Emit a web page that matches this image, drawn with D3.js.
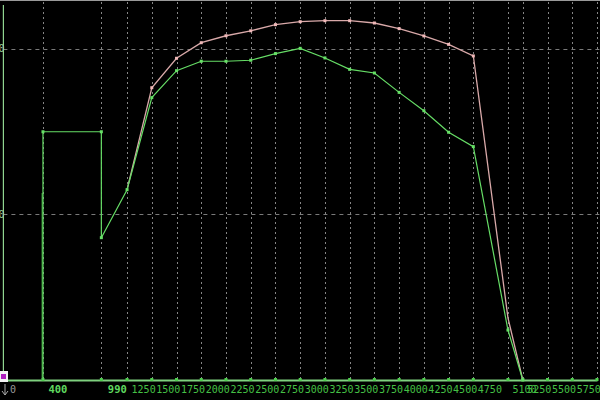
<!DOCTYPE html>
<html><head><meta charset="utf-8">
<script src="https://cdn.jsdelivr.net/npm/d3@7"></script>
<style>html,body{margin:0;padding:0;background:#000;overflow:hidden}svg{display:block}</style>
</head><body>
<svg id="c" width="600" height="400"></svg>
<script>
// ---- data ----
const tickValues = [0, 400, 990, 1250, 1500, 1750, 2000, 2250, 2500, 2750, 3000, 3250, 3500, 3750, 4000, 4250, 4500, 4750, 5100, 5250, 5500, 5750, 6000];
const tickLabels = ["0", "400", "990", "1250", "1500", "1750", "2000", "2250", "2500", "2750", "3000", "3250", "3500", "3750", "4000", "4250", "4500", "4750", "5100", "5250", "5500", "5750", "6000"];
const yTickValues = [100, 200];
const yTickLabels = ["100", "200"];

const greenX = [400, 400, 990, 990, 1250, 1500, 1750, 2000, 2250, 2500, 2750, 3000, 3250, 3500, 3750, 4000, 4250, 4500, 4750, 5100, 5250];
const greenY = [0, 150, 150, 86, 115, 170.6, 186.9, 192.6, 192.6, 193.2, 197.2, 200.4, 194.6, 187.7, 185.5, 173.8, 162.7, 149.7, 141, 30.2, 0];

const pinkX = [1250, 1500, 1750, 2000, 2250, 2500, 2750, 3000, 3250, 3500, 3750, 4000, 4250, 4500, 4750, 5100, 5250];
const pinkY = [115, 176.6, 194.4, 203.8, 208, 211, 214.7, 216.5, 217.1, 217.1, 215.7, 212.3, 207.9, 202.8, 195.8, 37.5, 0];

const shadowX = [392, 392];
const shadowY = [0, 113];

// ---- chart ----
const svg = d3.select("#c");
const W = 600, H = 400;
const x = d3.scaleLinear().domain([0, 6000]).range([3.4, 597]);
const y = d3.scaleLinear().domain([0, 229]).range([380, 1]);

svg.append("rect").attr("width", W).attr("height", H).attr("fill", "#000");

// top border
svg.append("line").attr("x1", 0).attr("x2", W).attr("y1", 0.5).attr("y2", 0.5)
  .attr("stroke", "#9a9a9a").attr("stroke-width", 1);

// vertical grid
svg.append("g").selectAll("line").data(tickValues.filter(d => d > 0)).join("line")
  .attr("x1", d => Math.round(x(d)) + 0.5).attr("x2", d => Math.round(x(d)) + 0.5)
  .attr("y1", 2).attr("y2", y(0))
  .attr("stroke", "#858585").attr("stroke-width", 1).attr("stroke-dasharray", "2,3");

// horizontal grid
svg.append("g").selectAll("line").data(yTickValues).join("line")
  .attr("x1", x(0)).attr("x2", W)
  .attr("y1", d => Math.round(y(d)) + 0.5).attr("y2", d => Math.round(y(d)) + 0.5)
  .attr("stroke", "#7a7a7a").attr("stroke-width", 1).attr("stroke-dasharray", "4,4");

// left y axis line
svg.append("line").attr("x1", x(0)).attr("x2", x(0)).attr("y1", 5).attr("y2", y(0))
  .attr("stroke", "#8fd48f").attr("stroke-width", 1.2);

// y labels (clipped at left edge, as in the reference)
svg.append("g").selectAll("text").data(yTickValues).join("text")
  .attr("x", 4.5).attr("y", d => y(d) + 3.5).attr("text-anchor", "end")
  .attr("font-family", "DejaVu Sans Mono").attr("font-size", 10)
  .attr("fill", "#9fcf9f").text((d, i) => yTickLabels[i]);

// bottom axis
const xAxis = d3.axisBottom(x).tickValues(tickValues).tickSize(0).tickFormat((d, i) => tickLabels[i]);
const ax = svg.append("g").attr("transform", `translate(0,${y(0)})`).call(xAxis);
ax.select(".domain").attr("stroke", "#7fd07f").attr("stroke-width", 2);
ax.selectAll(".tick text")
  .attr("text-anchor", "start")
  .attr("dx", (d) => d === 0 ? 6 : d === 400 ? 5 : d === 990 ? 6 : 4)
  .attr("dy", 0)
  .attr("y", 13)
  .attr("font-family", "DejaVu Sans Mono")
  .attr("font-size", (d) => (d === 400 || d === 990) ? 10.5 : 10)
  .attr("font-weight", (d) => (d === 400 || d === 990) ? "bold" : "normal")
  .attr("fill", (d) => (d === 400 || d === 990) ? "#5fd85f" : (d === 0 ? "#9a9a9a" : "#45c045"));
// tick dots on axis
svg.append("g").selectAll("rect").data(tickValues.filter(d => d > 0)).join("rect")
  .attr("x", d => x(d) - 1.5).attr("y", y(0) - 2).attr("width", 3).attr("height", 3)
  .attr("fill", "#4fd04f");

// origin marker
svg.append("rect").attr("x", 0).attr("y", 371).attr("width", 8).attr("height", 11).attr("fill", "#f4f4f4");
svg.append("rect").attr("x", 1).attr("y", 374).attr("width", 5).attr("height", 5).attr("fill", "#b020c0");
svg.append("path").attr("d", "M5,384 L5,395 M2,391 L5,395 L8,391").attr("stroke", "#aaaaaa").attr("fill", "none").attr("stroke-width", 1);

// lines
const line = d3.line().x(d => x(d[0])).y(d => y(d[1]));
const shadow = shadowX.map((v, i) => [v, shadowY[i]]);
const pink = pinkX.map((v, i) => [v, pinkY[i]]);
const green = greenX.map((v, i) => [v, greenY[i]]);

svg.append("path").datum(shadow).attr("d", line).attr("fill", "none")
  .attr("stroke", "#3fa03f").attr("stroke-width", 1.2);

svg.append("path").datum(pink).attr("d", line).attr("fill", "none")
  .attr("stroke", "#d9a9a9").attr("stroke-width", 1.3);
svg.append("g").selectAll("rect").data(pink.slice(1, -2)).join("rect")
  .attr("x", d => x(d[0]) - 1.5).attr("y", d => y(d[1]) - 1.5).attr("width", 3).attr("height", 3)
  .attr("fill", "#f0b8b8");

svg.append("path").datum(green).attr("d", line).attr("fill", "none")
  .attr("stroke", "#66dd66").attr("stroke-width", 1.2);
svg.append("g").selectAll("rect").data(green.slice(1)).join("rect")
  .attr("x", d => x(d[0]) - 1.5).attr("y", d => y(d[1]) - 1.5).attr("width", 3).attr("height", 3)
  .attr("fill", "#66e066");
</script>
</body></html>
